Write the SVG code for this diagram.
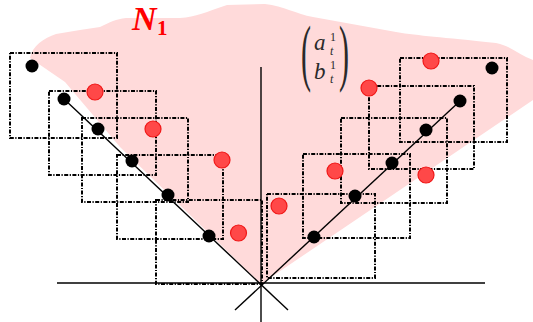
<svg xmlns="http://www.w3.org/2000/svg" width="533" height="322" viewBox="0 0 533 322">
<style>
.win{fill:none;stroke:#000;stroke-width:2;stroke-dasharray:4 1.5 1.2 1.5}
.ax{stroke:#000;stroke-width:1.4;fill:none}
.bd{fill:#000}
.rd{fill:#ff4848;stroke:#f01818;stroke-width:1.2}
.mt{font-family:"Liberation Serif",serif;font-style:italic;fill:#2a2a2a}
.pr{font-family:"Liberation Serif",serif;fill:#2a2a2a}
.up{font-style:normal}
</style>
<rect width="533" height="322" fill="#fff"/>
<g id="region">
<path d="M30,58 C32,46 44,38 56,34 L80,30 L100,27 C110,22 116,19 126,18 L180,18 C196,17 206,12 227,5 L265,4 C284,6 296,14 313,17 L396,32 C420,36 440,37 496,43 C510,46 516,52 526,57 L533,60 L533,100 L261,284 L120,147 L65,82 Z" fill="#ffdada"/>
</g>
<g id="labels">
<text x="132" y="30" font-family="Liberation Serif,serif" font-weight="bold" font-style="italic" font-size="34" fill="#ff0000">N<tspan x="157" y="35" font-style="normal" font-size="21">1</tspan></text>
<text class="pr" font-size="30" transform="translate(301,77) scale(1,2.5)">(</text>
<text class="pr" font-size="30" transform="translate(339,77) scale(1,2.5)">)</text>
<text class="mt" x="314" y="50" font-size="23">a<tspan class="up" x="330" y="41" font-size="12">1</tspan><tspan x="330" y="55" font-size="12">t</tspan></text>
<text class="mt" x="314" y="79" font-size="23">b<tspan class="up" x="330" y="69" font-size="12">1</tspan><tspan x="330" y="83" font-size="12">t</tspan></text>
</g>
<g id="connectors">
<line class="ax" x1="261" y1="67" x2="261" y2="322"/>
<line class="ax" x1="57" y1="283" x2="485" y2="283"/>
<line class="ax" x1="64" y1="99" x2="288" y2="310"/>
<line class="ax" x1="460" y1="101" x2="235" y2="310"/>
</g>
<g id="windows-left">
<rect class="win" x="10" y="53" width="107" height="85"/>
<rect class="win" x="49" y="91" width="107" height="84"/>
<rect class="win" x="82" y="118" width="106" height="84"/>
<rect class="win" x="117" y="155" width="106" height="84"/>
<rect class="win" x="156" y="200" width="106" height="84"/>
</g>
<g id="windows-right">
<rect class="win" x="400" y="58" width="107" height="84"/>
<rect class="win" x="369" y="86" width="105" height="83"/>
<rect class="win" x="341" y="118" width="106" height="85"/>
<rect class="win" x="303" y="154" width="107" height="84"/>
<rect class="win" x="267" y="194" width="108" height="84"/>
</g>
<g id="points-left">
<circle class="bd" cx="32" cy="66" r="6.5"/>
<circle class="bd" cx="64" cy="99" r="6.5"/>
<circle class="bd" cx="98" cy="129" r="6.5"/>
<circle class="bd" cx="132" cy="161" r="6.5"/>
<circle class="bd" cx="168" cy="195" r="6.5"/>
<circle class="bd" cx="209" cy="236" r="6.5"/>
<circle class="rd" cx="95" cy="92" r="8"/>
<circle class="rd" cx="153" cy="129" r="8"/>
<circle class="rd" cx="222" cy="160" r="8"/>
<circle class="rd" cx="238.5" cy="233" r="8"/>
</g>
<g id="points-right">
<circle class="bd" cx="492" cy="68" r="6.5"/>
<circle class="bd" cx="460" cy="101" r="6.5"/>
<circle class="bd" cx="426" cy="130" r="6.5"/>
<circle class="bd" cx="392" cy="163" r="6.5"/>
<circle class="bd" cx="355" cy="196" r="6.5"/>
<circle class="bd" cx="314" cy="237" r="6.5"/>
<circle class="rd" cx="431" cy="61" r="8"/>
<circle class="rd" cx="369" cy="88" r="8"/>
<circle class="rd" cx="335" cy="171" r="8"/>
<circle class="rd" cx="426" cy="175" r="8"/>
<circle class="rd" cx="279" cy="206" r="8"/>
</g>
</svg>
